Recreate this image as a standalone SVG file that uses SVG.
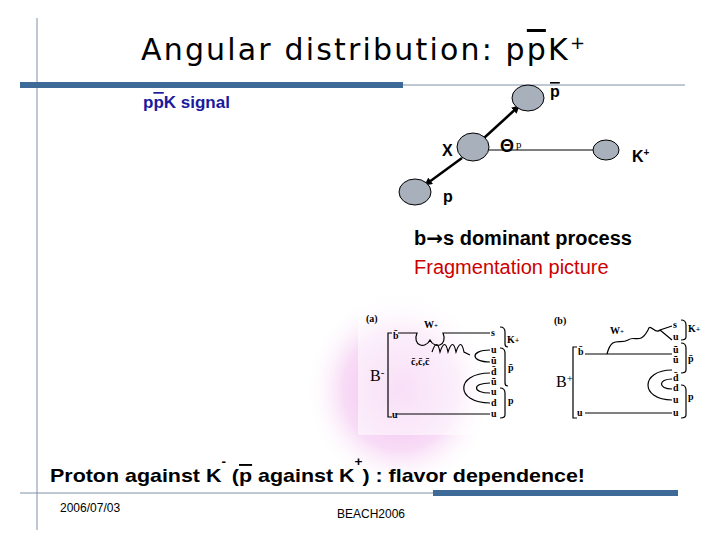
<svg xmlns="http://www.w3.org/2000/svg" width="720" height="540" viewBox="0 0 720 540">
<defs>
<radialGradient id="pink" cx="0.5" cy="0.5" r="0.5"><stop offset="0" stop-color="#f0b8ee"/><stop offset="0.6" stop-color="#f8dcf6"/><stop offset="1" stop-color="#ffffff" stop-opacity="0"/></radialGradient>
<marker id="ah" markerWidth="8" markerHeight="8" refX="7" refY="4" orient="auto" markerUnits="userSpaceOnUse"><path d="M0,0 L8,4 L0,8 z" fill="#000"/></marker>
<style>
.s{font-family:"Liberation Sans",Arial,sans-serif}
.b{font-family:"Liberation Sans",Arial,sans-serif;font-weight:bold}
.n{fill:#a8b0bc;stroke:#000;stroke-width:1}
.q{font-family:"Liberation Serif",serif;font-size:10px;font-weight:bold}
.f{fill:none;stroke:#000;stroke-width:1.2}
.o{text-decoration:overline}
</style>
</defs>
<rect width="720" height="540" fill="#fff"/>
<ellipse cx="400" cy="390" rx="95" ry="100" fill="url(#pink)"/>
<line x1="37" y1="18" x2="37" y2="530" stroke="#8090a8" stroke-width="1"/>
<line x1="20" y1="85" x2="685" y2="85" stroke="#8090a8" stroke-width="1"/>
<rect x="20" y="82" width="383" height="6" fill="#3e6a98"/>
<line x1="20" y1="493" x2="433" y2="493" stroke="#8090a8" stroke-width="1"/>
<rect x="433" y="490" width="245" height="6" fill="#3e6a98"/>
<text x="141" y="60" font-size="30" font-family="DejaVu Sans,sans-serif" fill="#000" textLength="444" lengthAdjust="spacing">Angular distribution: p<tspan class="o">p</tspan>K<tspan dy="-11" font-size="18">+</tspan></text>
<text class="b" x="143" y="108" font-size="17" fill="#1a1aa0">p<tspan class="o">p</tspan>K signal</text>
<g id="connectors">
<line x1="484" y1="138" x2="519" y2="106" stroke="#000" stroke-width="2.5" marker-end="url(#ah)"/>
<line x1="462" y1="158" x2="425" y2="185" stroke="#000" stroke-width="2.5" marker-end="url(#ah)"/>
<line x1="489" y1="150" x2="593" y2="150" stroke="#000" stroke-width="1"/>
</g>
<g id="pbar"><ellipse class="n" cx="528" cy="98" rx="16" ry="13"/><text class="b o" x="550" y="97" font-size="16">p</text></g>
<g id="X"><ellipse class="n" cx="473" cy="147" rx="16" ry="14"/><text class="b" x="442" y="156" font-size="16">X</text></g>
<g id="theta"><text class="b" x="500" y="152" font-size="18">Θ</text><text x="516" y="148" font-size="11" font-family="Liberation Serif,serif">p</text></g>
<g id="Kplus"><ellipse class="n" cx="606" cy="150" rx="13" ry="10"/><text class="b" x="632" y="162" font-size="16">K<tspan dy="-6" font-size="10">+</tspan></text></g>
<g id="p"><ellipse class="n" cx="415" cy="192" rx="16" ry="13"/><text class="b" x="443" y="202" font-size="16">p</text></g>
<text class="b" x="414" y="245" font-size="20">b<tspan font-family="DejaVu Sans">→</tspan>s dominant process</text>
<text class="s" x="414" y="274" font-size="20" fill="#cc0000">Fragmentation picture</text>
<g id="figure">
<rect x="358" y="300" width="354" height="135" fill="#fff" opacity="0.55"/>
<text class="q" x="366" y="322" font-size="13">(a)</text>
<text class="q" x="554" y="324" font-size="13">(b)</text>
<path class="f" d="M392,333 L388,333 L388,417 L392,417"/>
<text x="370" y="381" font-family="Liberation Serif,serif" font-size="16">B<tspan dy="-5" font-size="11">-</tspan></text>
<text class="q" x="393" y="339">b̄</text>
<path class="f" d="M398,333 L417,333 C412,345 425,350 430,340 C435,350 448,345 443,333 L490,333"/>
<text class="q" x="424" y="328">W<tspan font-size="7">+</tspan></text>
<path class="f" d="M432,352 q5,-15 8,0 q5,-15 8,0 q5,-15 8,0 q5,-15 8,0 L470,355"/>
<text class="q" x="411" y="365">c̄,c̄,c̄</text>
<path class="f" d="M490,350 C470,350 470,362 490,362"/>
<path class="f" d="M490,373 C455,373 455,403 490,403"/>
<path class="f" d="M490,383 C472,383 472,393 490,393"/>
<line x1="396" y1="414" x2="490" y2="414" stroke="#000" stroke-width="1"/>
<text class="q" x="491" y="336">s</text><text class="q" x="491" y="353">u</text><text class="q" x="491" y="364">ū</text><text class="q" x="491" y="375">d̄</text><text class="q" x="491" y="385">ū</text><text class="q" x="491" y="395">u</text><text class="q" x="491" y="406">d</text><text class="q" x="491" y="417">u</text>
<path class="f" d="M500,327 q5,0 5,5 v12 q0,3 3,3 M500,348 q5,0 5,5 v30 q0,3 3,3 M500,388 q5,0 5,5 v22 q0,3 -5,3"/>
<text class="q" x="507" y="343" font-size="12">K<tspan font-size="8">+</tspan></text><text class="q" x="508" y="371" font-size="12">p̄</text><text class="q" x="508" y="404" font-size="12">p</text>
<text class="q" x="392" y="418">u</text>
<path class="f" d="M577,347 L573,347 L573,418 L577,418"/>
<text x="556" y="387" font-family="Liberation Serif,serif" font-size="16">B<tspan dy="-5" font-size="11">+</tspan></text>
<text class="q" x="578" y="355">b̄</text>
<line x1="585" y1="354" x2="672" y2="354" stroke="#000" stroke-width="1"/>
<path class="f" d="M607,354 C612,335 620,345 628,340 C635,335 640,345 648,330 C650,322 655,335 660,330 L672,326 M660,330 L672,340"/>
<text class="q" x="610" y="334">W<tspan font-size="7">+</tspan></text>
<path class="f" d="M672,370 C640,370 640,400 672,400"/>
<path class="f" d="M672,379 C658,379 658,389 672,389"/>
<line x1="585" y1="413" x2="672" y2="413" stroke="#000" stroke-width="1"/>
<text class="q" x="577" y="416">u</text>
<text class="q" x="673" y="328">s</text><text class="q" x="673" y="340">u</text><text class="q" x="673" y="353">ū</text><text class="q" x="673" y="363">ū</text><text class="q" x="673" y="381">d̄</text><text class="q" x="673" y="391">d</text><text class="q" x="673" y="403">u</text><text class="q" x="673" y="416">u</text>
<path class="f" d="M681,320 q5,0 5,5 v12 q0,3 -5,3 M681,343 q5,0 5,5 v22 q0,3 -5,3 M681,385 q5,0 5,5 v25 q0,3 -5,3"/>
<text class="q" x="688" y="332" font-size="12">K<tspan font-size="8">+</tspan></text><text class="q" x="688" y="362" font-size="12">p̄</text><text class="q" x="688" y="400" font-size="12">p</text>
</g>
<text class="b" x="50" y="482" font-size="19" textLength="535" lengthAdjust="spacingAndGlyphs">Proton  against K<tspan dy="-16" font-size="12">-</tspan><tspan dy="16"> (</tspan><tspan class="o">p</tspan> against K<tspan dy="-16" font-size="12">+</tspan><tspan dy="16">) : flavor dependence!</tspan></text>
<text class="s" x="60" y="512" font-size="12">2006/07/03</text>
<text class="s" x="337" y="518" font-size="12">BEACH2006</text>
</svg>
